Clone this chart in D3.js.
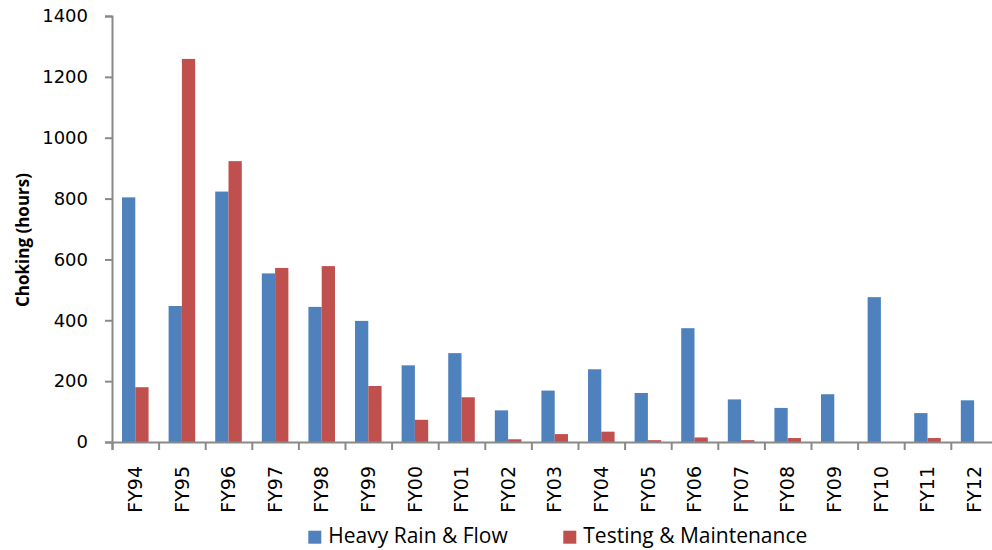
<!DOCTYPE html>
<html>
<head>
<meta charset="utf-8">
<script src="https://cdn.jsdelivr.net/npm/d3@7"></script>
<style>
  html, body { margin: 0; padding: 0; background: #fff; }
  svg { display: block; }
</style>
</head>
<body>
<svg id="chart" width="992" height="550"></svg>
<script>
const categories = ["FY94","FY95","FY96","FY97","FY98","FY99","FY00","FY01","FY02","FY03","FY04","FY05","FY06","FY07","FY08","FY09","FY10","FY11","FY12"];
const seriesNames = ["Heavy Rain & Flow", "Testing & Maintenance"];
const heavyRain = [804,447,823,554,444,398,252,292,104,169,239,161,374,140,112,157,476,95,137];
const testing   = [180,1259,923,572,578,184,73,147,9,26,34,6,15,6,13,0,0,13,0];
const yTicks = [0,200,400,600,800,1000,1200,1400];
const colors = ["#4F81BD", "#C0504D"];

(function () {
const svg = d3.select("#chart");
const mLeft = 112, mRight = 997.4, mTop = 16, mBottom = 442;
const axisColor = "#898989";

const x = d3.scaleBand().domain(categories).range([mLeft, mRight]).paddingInner(0.43).paddingOuter(0.215);
const x1 = d3.scaleBand().domain(seriesNames).range([0, x.bandwidth()]);
const xb = d3.scaleLinear().domain([0, categories.length]).range([mLeft, mRight]);
const y = d3.scaleLinear().domain([0, 1400]).range([mBottom, mTop]);

const data = categories.map((c, i) => ({cat: c, values: [heavyRain[i], testing[i]]}));

// bars
const g = svg.append("g");
g.selectAll("g.cat").data(data).join("g")
  .attr("transform", d => `translate(${x(d.cat)},0)`)
  .selectAll("rect").data(d => d.values.map((v, j) => ({v, s: seriesNames[j], j})))
  .join("rect")
  .attr("x", d => x1(d.s))
  .attr("width", x1.bandwidth())
  .attr("y", d => y(d.v))
  .attr("height", d => mBottom - y(d.v))
  .attr("fill", d => colors[d.j]);

// y axis
const yAxis = svg.append("g").attr("transform", `translate(${mLeft},0)`)
  .call(d3.axisLeft(y).tickValues(yTicks).tickSize(7).tickPadding(17).tickFormat(d3.format("d")));
yAxis.select(".domain").attr("stroke", axisColor).attr("stroke-width", 2);
yAxis.selectAll(".tick line").attr("stroke", axisColor).attr("stroke-width", 2);
yAxis.selectAll(".tick text").attr("font-family", "DejaVu Sans").attr("font-size", 18).attr("fill", "#000");

// x axis tick marks at category boundaries
const xTickAxis = svg.append("g").attr("transform", `translate(0,${mBottom})`)
  .call(d3.axisBottom(xb).tickValues(d3.range(categories.length + 1)).tickSize(8).tickFormat(""));
xTickAxis.select(".domain").attr("stroke", axisColor).attr("stroke-width", 2);
xTickAxis.selectAll(".tick line").attr("stroke", axisColor).attr("stroke-width", 2);

// x labels
const xLab = svg.append("g").attr("transform", `translate(0,${mBottom})`)
  .call(d3.axisBottom(x).tickSize(0).tickPadding(0));
xLab.select(".domain").remove();
xLab.selectAll(".tick text")
  .attr("font-family", "DejaVu Sans").attr("font-size", 19).attr("fill", "#000")
  .attr("text-anchor", "end")
  .attr("transform", "translate(0,24) rotate(-90)")
  .attr("x", 0).attr("y", 0).attr("dy", "0.35em");

// y title
svg.append("text")
  .attr("transform", "translate(29,240) rotate(-90)")
  .attr("text-anchor", "middle")
  .attr("font-family", "Open Sans").attr("font-weight", "bold").attr("font-size", 17)
  .attr("fill", "#000")
  .text("Choking (hours)");

// legend
const legendX = [308.3, 563.3];
const lg = svg.append("g");
seriesNames.forEach((s, i) => {
  lg.append("rect").attr("x", legendX[i]).attr("y", 530.7).attr("width", 13).attr("height", 13).attr("fill", colors[i]);
  lg.append("text").attr("x", legendX[i] + 20).attr("y", 543)
    .attr("font-family", "Open Sans").attr("font-size", 21).attr("fill", "#000")
    .text(s);
});
})();
</script>
</body>
</html>
